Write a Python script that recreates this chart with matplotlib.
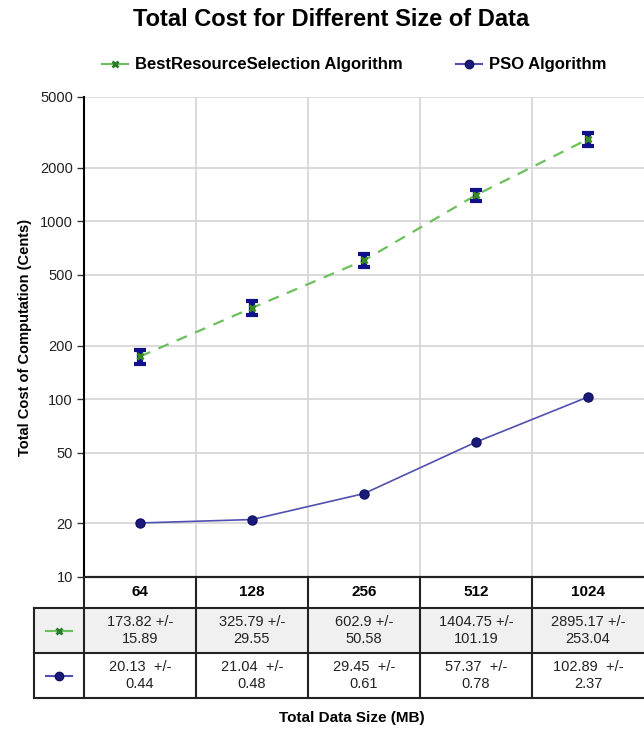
import matplotlib
matplotlib.use("Agg")
import matplotlib.pyplot as plt
from matplotlib.lines import Line2D
from matplotlib.patches import Rectangle

plt.rcParams['font.family'] = ['Liberation Sans', 'DejaVu Sans']

categories = ["64", "128", "256", "512", "1024"]
brs_mean = [173.82, 325.79, 602.9, 1404.75, 2895.17]
brs_err = [15.89, 29.55, 50.58, 101.19, 253.04]
pso_mean = [20.13, 21.04, 29.45, 57.37, 102.89]
pso_err = [0.44, 0.48, 0.61, 0.78, 2.37]
series_names = ["BestResourceSelection Algorithm", "PSO Algorithm"]
yticks = [10, 20, 50, 100, 200, 500, 1000, 2000, 5000]

W, H = 644, 738
fig = plt.figure(figsize=(W / 100, H / 100), dpi=100)

left_px, right_px, top_px, bottom_px = 84, 644, 97, 577
ax = fig.add_axes([left_px / W, 1 - bottom_px / H, (right_px - left_px) / W, (bottom_px - top_px) / H])

x = list(range(len(categories)))
green_line = '#6cc05c'
green_mk = '#2a7a2a'
navy = '#10108a'
pso_line = '#5050b0'

ax.plot(x, brs_mean, linestyle=(0, (5, 4)), color=green_line, linewidth=1.6, zorder=3)
ax.errorbar(x, brs_mean, yerr=brs_err, fmt='none', ecolor=navy, elinewidth=4.5, capsize=4.5, capthick=3, zorder=4)
ax.plot(x, brs_mean, linestyle='none', marker='x', markersize=4, markeredgewidth=2, color='#3a8a2a', zorder=5)

ax.plot(x, pso_mean, linestyle='-', color=pso_line, linewidth=1.2, zorder=3)
ax.errorbar(x, pso_mean, yerr=pso_err, fmt='none', ecolor=navy, elinewidth=1.5, capsize=3, zorder=4)
ax.plot(x, pso_mean, linestyle='none', marker='o', markersize=6.5, markerfacecolor='#1a1a7a', markeredgecolor='#101060', zorder=5)

ax.set_yscale('log')
ax.set_ylim(10, 5000)
ax.set_xlim(-0.5, len(categories) - 0.5)
ax.set_yticks(yticks)
ax.set_yticklabels([str(v) for v in yticks], fontsize=10.5, color='#222222')
ax.yaxis.set_minor_locator(matplotlib.ticker.NullLocator())
ax.set_xticks([i + 0.5 for i in range(len(categories) - 1)])
ax.set_xticklabels([])
ax.tick_params(axis='x', length=0)
ax.tick_params(axis='y', length=5, width=1, color='#333333', pad=3)
ax.grid(True, color='#d4d4d4', linewidth=1.2)
ax.set_axisbelow(True)
for s in ['top', 'right']:
    ax.spines[s].set_visible(False)
ax.spines['left'].set_linewidth(1.5)
ax.spines['bottom'].set_linewidth(1.5)

ax.set_ylabel("Total Cost of Computation (Cents)", fontsize=10.5, fontweight='bold', labelpad=6)

fig.text((W + 18) / 2 / W, 1 - 20 / H, "Total Cost for Different Size of Data", ha='center', va='center',
         fontsize=17, fontweight='bold')

handles = [
    Line2D([], [], color=green_line, linestyle='-', marker='x', markersize=4, markeredgewidth=2, markeredgecolor=green_mk, linewidth=1.5),
    Line2D([], [], color=pso_line, linestyle='-', marker='o', markersize=6, markerfacecolor='#1a1a7a', markeredgecolor='#101060', linewidth=1.5),
]
fig.legend(handles, series_names, loc='center', bbox_to_anchor=(354 / W, 1 - 65 / H), ncol=2, frameon=False,
           prop={'weight': 'bold', 'size': 12}, handlelength=1.6, columnspacing=3.2, handletextpad=0.4)

# table
tleft_px, tbot_px = 34, 698
tax = fig.add_axes([tleft_px / W, 1 - tbot_px / H, (right_px - tleft_px) / W, (tbot_px - bottom_px) / H])
cell_w = (right_px - left_px) / len(categories)
x0 = -0.5 - (left_px - tleft_px) / cell_w
tax.set_xlim(x0, len(categories) - 0.5)
tax.set_ylim(0, 121)
tax.axis('off')

# header
for i, c in enumerate(categories):
    tax.text(i, 105.5, c, ha='center', va='center', fontsize=11, fontweight='bold')
# data rows
tax.add_patch(Rectangle((x0, 45), len(categories) - 0.5 - x0, 45, facecolor='#f0f0f0', edgecolor='none'))
for i in range(len(categories)):
    tax.text(i, 67.5, f"{brs_mean[i]} +/-\n{brs_err[i]}", ha='center', va='center', fontsize=10.5, linespacing=1.25, color='#222222')
    tax.text(i, 22.5, f"{pso_mean[i]}  +/-\n{pso_err[i]}", ha='center', va='center', fontsize=10.5, linespacing=1.25, color='#222222')
xm = (x0 - 0.5) / 2
tax.plot([xm - 0.12, xm + 0.12], [67.5, 67.5], color=green_line, linewidth=1.5)
tax.plot([xm], [67.5], marker='x', markersize=4, markeredgewidth=2, color=green_mk)
tax.plot([xm - 0.12, xm + 0.12], [22.5, 22.5], color=pso_line, linewidth=1.5)
tax.plot([xm], [22.5], marker='o', markersize=6, markerfacecolor='#1a1a7a', markeredgecolor='#101060')

lc = '#222222'
xr = len(categories) - 0.5
tax.plot([-0.5, xr], [121, 121], color=lc, lw=1.5, clip_on=False)
tax.plot([x0, xr], [90, 90], color=lc, lw=1.5, clip_on=False)
tax.plot([x0, xr], [45, 45], color=lc, lw=1.5, clip_on=False)
tax.plot([x0, xr], [0, 0], color=lc, lw=1.5, clip_on=False)
tax.plot([x0, x0], [0, 90], color=lc, lw=1.5, clip_on=False)
for i in range(len(categories)):
    tax.plot([i - 0.5, i - 0.5], [0, 121], color=lc, lw=1.5, clip_on=False)

fig.text((W + 60) / 2 / W, 1 - 718 / H, "Total Data Size (MB)", ha='center', va='center', fontsize=11, fontweight='bold')

fig.savefig("out.png", dpi=100)
